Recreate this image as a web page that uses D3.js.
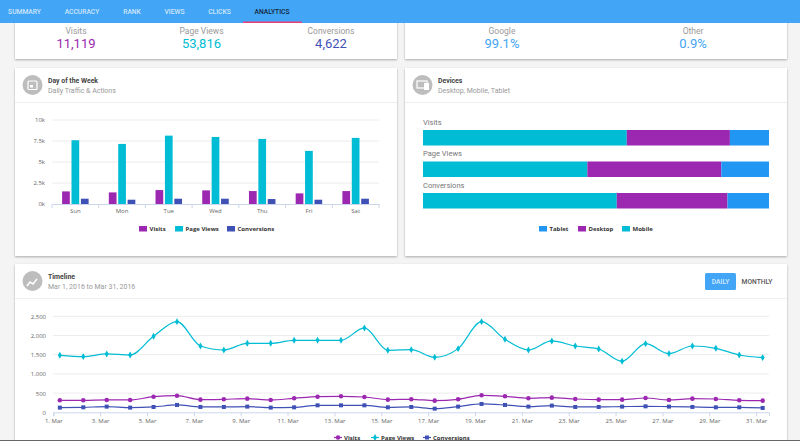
<!DOCTYPE html>
<html>
<head>
<meta charset="utf-8">
<script src="https://cdn.jsdelivr.net/npm/d3@7"></script>
<style>
  html, body { margin: 0; padding: 0; background: #f4f4f4; overflow: hidden; }
  svg { display: block; }
  text { font-family: Roboto, sans-serif; }
  .hc text { font-family: "Open Sans", sans-serif; }
  .axis path, .axis line { stroke: #ccd6eb; }
  .axis text { fill: #666; font-size: 6px; font-family: "Open Sans", sans-serif; }
  .grid line { stroke: #ececec; }
</style>
</head>
<body>
<svg id="page" width="800" height="441"></svg>
<script>
const tabs = ["SUMMARY", "ACCURACY", "RANK", "VIEWS", "CLICKS", "ANALYTICS"];
const tabCenters = [24.5, 82, 132, 174.5, 219.5, 272];

const weekDays = ["Sun", "Mon", "Tue", "Wed", "Thu", "Fri", "Sat"];
const weekVisits = [1500, 1380, 1660, 1620, 1540, 1265, 1540];
const weekPageViews = [7590, 7150, 8140, 7980, 7750, 6320, 7870];
const weekConversions = [630, 510, 630, 630, 590, 510, 630];
const weekTicks = [0, 2500, 5000, 7500, 10000];
const weekTickLabels = ["0k", "2.5k", "5k", "7.5k", "10k"];

const deviceRows = ["Visits", "Page Views", "Conversions"];
const deviceMobile = [58.9, 47.5, 56];
const deviceDesktop = [29.8, 38.7, 32];
const deviceTablet = [11.3, 13.8, 12];

const marchDays = d3.range(1, 32);
const dayVisits = [312, 312, 321, 321, 408, 434, 330, 339, 356, 321, 365, 408, 417, 399, 330, 339, 304, 339, 443, 417, 365, 382, 347, 330, 330, 373, 321, 356, 347, 312, 304];
const dayPageViews = [1484, 1450, 1519, 1493, 1979, 2361, 1727, 1623, 1797, 1797, 1875, 1875, 1875, 2196, 1615, 1632, 1432, 1658, 2361, 1901, 1623, 1858, 1727, 1649, 1328, 1788, 1528, 1727, 1667, 1493, 1424];
const dayConversions = [122, 130, 148, 122, 139, 191, 139, 139, 148, 122, 130, 182, 182, 182, 130, 139, 95, 148, 217, 191, 148, 174, 139, 139, 148, 156, 148, 139, 130, 130, 113];
const dayTicks = [1, 3, 5, 7, 9, 11, 13, 15, 17, 19, 21, 23, 25, 27, 29, 31];
const timelineTicks = [0, 500, 1000, 1500, 2000, 2500];

const PURPLE = "#9c27b0", CYAN = "#00bcd4", INDIGO = "#3f51b5", BLUE = "#2196f3", HEADER = "#42a5f5";

const svg = d3.select("#page");

// cards
const defs = svg.append("defs");
const shadow = defs.append("filter").attr("id", "shadow")
    .attr("x", "-5%").attr("y", "-5%").attr("width", "110%").attr("height", "115%");
shadow.append("feDropShadow").attr("dx", 0).attr("dy", 1).attr("stdDeviation", 1)
    .attr("flood-color", "#000").attr("flood-opacity", 0.3);

const cards = [
    [15, 10, 382, 49], [405, 10, 382, 49],
    [15, 68, 382, 188], [405, 68, 382, 188],
    [15, 264, 772, 200]
];
svg.append("g").selectAll("rect").data(cards).join("rect")
    .attr("x", d => d[0]).attr("y", d => d[1])
    .attr("width", d => d[2]).attr("height", d => d[3])
    .attr("fill", "#fff").attr("filter", "url(#shadow)");

// header
svg.append("rect").attr("width", 800).attr("height", 23).attr("fill", HEADER);
svg.append("rect").attr("x", 243).attr("y", 21.5).attr("width", 59).attr("height", 1.5).attr("fill", "#ec407a");
svg.append("g").selectAll("text").data(tabs).join("text")
    .attr("x", (d, i) => tabCenters[i]).attr("y", 14)
    .attr("text-anchor", "middle")
    .attr("font-size", 6.7).attr("font-weight", 500)
    .attr("fill", d => d === "ANALYTICS" ? "#12263a" : "#cfe6fb")
    .text(d => d);

// stats
const stats = [
    ["Visits", "11,119", 76, PURPLE], ["Page Views", "53,816", 201.5, CYAN], ["Conversions", "4,622", 331, INDIGO],
    ["Google", "99.1%", 502, "#42a5f5"], ["Other", "0.9%", 693, "#42a5f5"]
];
const statG = svg.append("g").selectAll("g").data(stats).join("g");
statG.append("text").attr("x", d => d[2]).attr("y", 33.5).attr("text-anchor", "middle")
    .attr("font-size", 8.5).attr("fill", "#999").text(d => d[0]);
statG.append("text").attr("x", d => d[2]).attr("y", 48).attr("text-anchor", "middle")
    .attr("font-size", 13).attr("fill", d => d[3]).text(d => d[1]);

// card headers
function cardHeader(x, y, w, title, sub) {
    const g = svg.append("g");
    g.append("circle").attr("cx", x + 17.5).attr("cy", y + 17).attr("r", 10).attr("fill", "#bdbdbd");
    g.append("text").attr("x", x + 33).attr("y", y + 14.5).attr("font-size", 6.9).attr("font-weight", 700)
        .attr("fill", "#444").text(title);
    g.append("text").attr("x", x + 33).attr("y", y + 24.5).attr("font-size", 7).attr("fill", "#999").text(sub);
    g.append("line").attr("x1", x).attr("x2", x + w).attr("y1", y + 34.5).attr("y2", y + 34.5).attr("stroke", "#eee");
    return g;
}
const calIcon = cardHeader(15, 68, 382, "Day of the Week", "Daily Traffic & Actions");
calIcon.append("rect").attr("x", 28).attr("y", 81).attr("width", 9).attr("height", 8.5).attr("rx", 1).attr("fill", "none").attr("stroke", "#fff").attr("stroke-width", 1.2);
calIcon.append("rect").attr("x", 30).attr("y", 85).attr("width", 3).attr("height", 2.5).attr("fill", "#fff");
const devIcon = cardHeader(405, 68, 382, "Devices", "Desktop, Mobile, Tablet");
devIcon.append("rect").attr("x", 417).attr("y", 81).attr("width", 10).attr("height", 7).attr("fill", "none").attr("stroke", "#fff").attr("stroke-width", 1.2);
devIcon.append("rect").attr("x", 424).attr("y", 83).attr("width", 5).attr("height", 7).attr("fill", "#fff");
const lineIcon = cardHeader(15, 264, 772, "Timeline", "Mar 1, 2016 to Mar 31, 2016");
lineIcon.append("path").attr("d", d3.line()([[27, 286], [30, 282], [33, 284], [37, 279]]))
    .attr("fill", "none").attr("stroke", "#fff").attr("stroke-width", 1.6);

// daily / monthly buttons
svg.append("rect").attr("x", 705).attr("y", 273).attr("width", 31).attr("height", 17).attr("rx", 1.5).attr("fill", HEADER);
svg.append("text").attr("x", 720.5).attr("y", 284).attr("text-anchor", "middle").attr("font-size", 6.7).attr("font-weight", 500).attr("fill", "#d8ecfd").text("DAILY");
svg.append("text").attr("x", 757).attr("y", 284).attr("text-anchor", "middle").attr("font-size", 6.7).attr("font-weight", 500).attr("fill", "#555").text("MONTHLY");

// legend helper
function legendItems(items, y) {
    const g = svg.append("g").attr("class", "hc");
    g.selectAll("rect").data(items).join("rect")
        .attr("x", d => d.x).attr("y", y - 3).attr("width", 8).attr("height", 5.5).attr("fill", d => d.color);
    g.selectAll("text").data(items).join("text")
        .attr("x", d => d.x + 10.5).attr("y", y + 2).attr("font-size", 6).attr("font-weight", 700)
        .attr("fill", "#333").text(d => d.name);
}

// ---- day of the week bars
const weekY = d3.scaleLinear().domain([0, 10000]).range([204, 120]);
const weekX = d3.scaleBand().domain(weekDays).range([52, 379]);
const weekSeries = [
    { name: "Visits", color: PURPLE, values: weekVisits },
    { name: "Page Views", color: CYAN, values: weekPageViews },
    { name: "Conversions", color: INDIGO, values: weekConversions }
];
const weekInner = d3.scaleBand().domain(weekSeries.map(d => d.name))
    .range([0, weekX.bandwidth()]).paddingInner(0.18).paddingOuter(1.075);

svg.append("g").attr("class", "grid")
    .selectAll("line").data(weekTicks.slice(1)).join("line")
    .attr("x1", 52).attr("x2", 379).attr("y1", d => weekY(d)).attr("y2", d => weekY(d));

svg.append("g").selectAll("g").data(weekSeries).join("g")
    .attr("fill", d => d.color)
    .selectAll("rect").data(d => d.values.map((v, i) => ({ v, day: weekDays[i], name: d.name }))).join("rect")
    .attr("x", d => weekX(d.day) + weekInner(d.name))
    .attr("y", d => weekY(d.v))
    .attr("width", weekInner.bandwidth())
    .attr("height", d => weekY(0) - weekY(d.v));

const weekAxis = svg.append("g").attr("class", "axis").attr("transform", "translate(0,204)")
    .call(d3.axisBottom(weekX).tickSize(0).tickPadding(5));
weekAxis.selectAll(".tick text").attr("dy", "0.71em");
weekAxis.selectAll(".edge").data(d3.range(8)).join("line").attr("class", "edge")
    .attr("x1", d => 52 + d * weekX.step()).attr("x2", d => 52 + d * weekX.step())
    .attr("y1", 0).attr("y2", 4);
const weekLeft = svg.append("g").attr("class", "axis").attr("transform", "translate(45,0)")
    .call(d3.axisLeft(weekY).tickValues(weekTicks).tickFormat((d, i) => weekTickLabels[i]).tickSize(0).tickPadding(0));
weekLeft.select(".domain").remove();
legendItems([
    { name: "Visits", color: PURPLE, x: 139 },
    { name: "Page Views", color: CYAN, x: 175 },
    { name: "Conversions", color: INDIGO, x: 227 }
], 229);

// ---- devices stacked bars
const deviceKeys = ["mobile", "desktop", "tablet"];
const deviceColors = { mobile: CYAN, desktop: PURPLE, tablet: BLUE };
const deviceTable = deviceRows.map((row, i) => ({
    row, mobile: deviceMobile[i], desktop: deviceDesktop[i], tablet: deviceTablet[i]
}));
const devX = d3.scaleLinear().domain([0, 100]).range([423, 769]);
const devY = d3.scaleBand().domain(deviceRows).range([130, 208.5]).paddingInner(0.508);

svg.append("g").selectAll("g").data(d3.stack().keys(deviceKeys)(deviceTable)).join("g")
    .attr("fill", d => deviceColors[d.key])
    .selectAll("rect").data(d => d).join("rect")
    .attr("x", d => devX(d[0]))
    .attr("y", d => devY(d.data.row))
    .attr("width", d => devX(d[1]) - devX(d[0]))
    .attr("height", devY.bandwidth());

svg.append("g").selectAll("text").data(deviceRows).join("text")
    .attr("x", 423).attr("y", d => devY(d) - 5.5)
    .attr("font-size", 7.5).attr("fill", "#777").text(d => d);

legendItems([
    { name: "Tablet", color: BLUE, x: 539 },
    { name: "Desktop", color: PURPLE, x: 578 },
    { name: "Mobile", color: CYAN, x: 622 }
], 229);

// ---- timeline
const timeX = d3.scaleLinear().domain([1, 31.55]).range([53.3, 769]);
const timeY = d3.scaleLinear().domain([0, 2500]).range([412.3, 316.3]);
const POINT_SHIFT = 0.28;

svg.append("g").attr("class", "grid")
    .selectAll("line").data(timelineTicks.slice(1)).join("line")
    .attr("x1", 53).attr("x2", 769).attr("y1", d => timeY(d)).attr("y2", d => timeY(d));

const timeSeries = [
    { name: "Visits", color: PURPLE, values: dayVisits, symbol: d3.symbolCircle, size: 16 },
    { name: "Page Views", color: CYAN, values: dayPageViews, symbol: d3.symbolDiamond, size: 14 },
    { name: "Conversions", color: INDIGO, values: dayConversions, symbol: d3.symbolSquare, size: 16 }
];
const timeLine = d3.line()
    .x((d, i) => timeX(marchDays[i] + POINT_SHIFT))
    .y(d => timeY(d))
    .curve(d3.curveMonotoneX);

const timeG = svg.append("g").selectAll("g").data(timeSeries).join("g");
timeG.append("path").attr("d", d => timeLine(d.values))
    .attr("fill", "none").attr("stroke", d => d.color).attr("stroke-width", 1.2);
timeG.each(function (s) {
    d3.select(this).selectAll(".pt").data(s.values).join("path").attr("class", "pt")
        .attr("d", d3.symbol().type(s.symbol).size(s.size))
        .attr("fill", s.color)
        .attr("transform", (d, i) => `translate(${timeX(marchDays[i] + POINT_SHIFT)},${timeY(d)})`);
});

const timeAxis = svg.append("g").attr("class", "axis").attr("transform", "translate(0,412.3)")
    .call(d3.axisBottom(timeX).tickValues(dayTicks).tickFormat(d => d + ". Mar").tickSize(4).tickPadding(2));
const timeLeft = svg.append("g").attr("class", "axis").attr("transform", "translate(46,0)")
    .call(d3.axisLeft(timeY).tickValues(timelineTicks).tickSize(0).tickPadding(0));
timeLeft.select(".domain").remove();

const timeLegend = svg.append("g").attr("class", "hc").selectAll("g").data([
    { name: "Visits", x: 334, s: timeSeries[0] },
    { name: "Page Views", x: 371, s: timeSeries[1] },
    { name: "Conversions", x: 423, s: timeSeries[2] }
]).join("g");
timeLegend.append("line").attr("x1", d => d.x).attr("x2", d => d.x + 8).attr("y1", 437.5).attr("y2", 437.5)
    .attr("stroke", d => d.s.color).attr("stroke-width", 1.2);
timeLegend.append("path").attr("d", d => d3.symbol().type(d.s.symbol).size(d.s.size)())
    .attr("fill", d => d.s.color).attr("transform", d => `translate(${d.x + 4},437.5)`);
timeLegend.append("text").attr("x", d => d.x + 10).attr("y", 440).attr("font-size", 6).attr("font-weight", 700)
    .attr("fill", "#333").text(d => d.name);

svg.append("rect").attr("y", 440).attr("width", 800).attr("height", 1).attr("fill", "#666");
</script>
</body>
</html>
